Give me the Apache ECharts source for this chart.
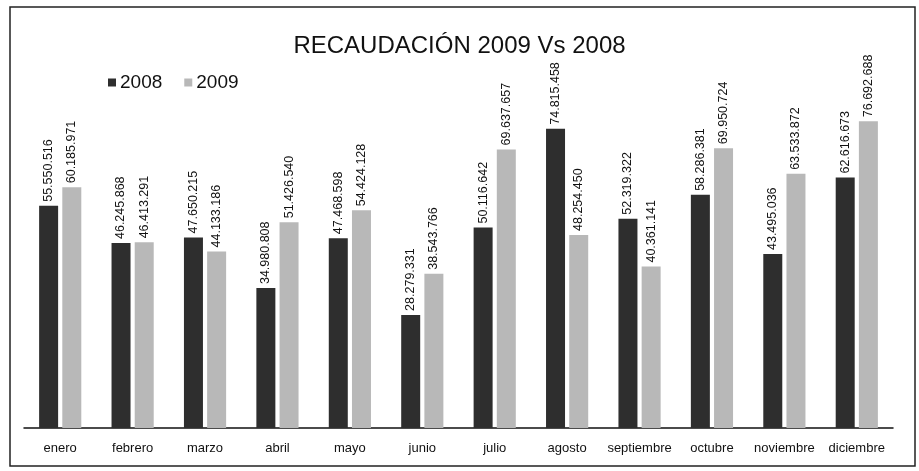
<!DOCTYPE html>
<html><head><meta charset="utf-8">
<script src="https://cdn.jsdelivr.net/npm/echarts@6/dist/echarts.min.js"></script>
<style>html,body{margin:0;padding:0;background:#fff}#c{width:919px;height:471px}</style>
</head><body><div id="c"></div>
<script>
const categories = ['enero','febrero','marzo','abril','mayo','junio','julio','agosto','septiembre','octubre','noviembre','diciembre'];
const values2008 = [55550516,46245868,47650215,34980808,47468598,28279331,50116642,74815458,52319322,58286381,43495036,62616673];
const values2009 = [60185971,46413291,44133186,51426540,54424128,38543766,69637657,48254450,40361141,69950724,63533872,76692688];
const seriesNames = ['2008','2009'];
const titleText = 'RECAUDACIÓN 2009 Vs 2008';

function fmt(v){ return String(v).replace(/\B(?=(\d{3})+(?!\d))/g,'.'); }

const chart = echarts.init(document.getElementById('c'));
const font = 'Liberation Sans, Arial, sans-serif';
const lbl = {show:true, position:'top', rotate:90, align:'left', verticalAlign:'middle', distance:4,
  color:'#111', fontSize:12.5, fontFamily:font, formatter:p=>fmt(p.value)};
chart.setOption({
  animation:false,
  title:{text:titleText, left:'center', top:29, textStyle:{fontSize:24, fontWeight:'normal', color:'#111', fontFamily:font}},
  legend:{left:103, top:68, itemWidth:8, itemHeight:8, itemGap:22, icon:'rect',
    textStyle:{fontSize:19, color:'#111', fontFamily:font, padding:[0,0,0,-1]}, data:seriesNames},
  graphic:[{type:'rect', shape:{x:10,y:7,width:905,height:459}, style:{fill:'none', stroke:'#222', lineWidth:1.5}, silent:true}],
  grid:{left:24, right:26, top:108, bottom:43},
  xAxis:{type:'category', data:categories,
    axisLine:{lineStyle:{color:'#111', width:1.5}}, axisTick:{show:false},
    axisLabel:{color:'#111', fontSize:13, fontFamily:font, margin:14, interval:0}},
  yAxis:{type:'value', min:0, max:80000000, show:false, splitLine:{show:false}},
  series:[
    {name:seriesNames[0], type:'bar', data:values2008, barWidth:19, barGap:'22%',
      itemStyle:{color:'#2e2e2e'}, label:lbl},
    {name:seriesNames[1], type:'bar', data:values2009, barWidth:19,
      itemStyle:{color:'#b8b8b8'}, label:lbl}
  ]
});
</script></body></html>
